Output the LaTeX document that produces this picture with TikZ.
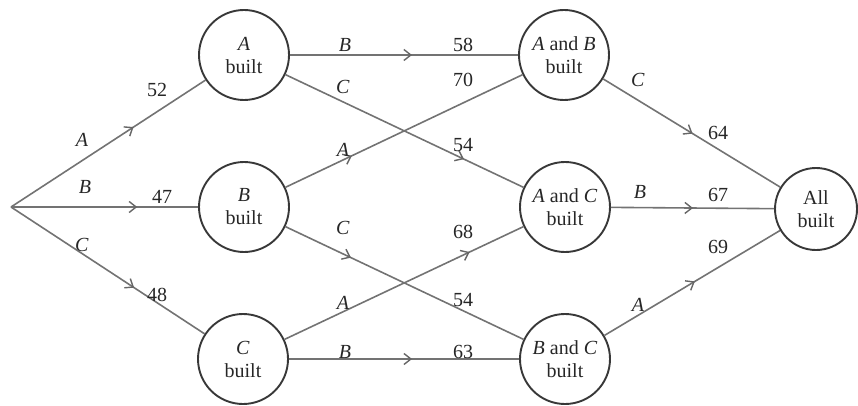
\documentclass[tikz,border=0pt]{standalone}
\usepackage{fontspec}
\setmainfont{Liberation Serif}
\usetikzlibrary{arrows.meta,decorations.markings}

\begin{document}
\begin{tikzpicture}[x=1pt,y=-1pt,
  state/.style={circle, draw=black!78, line width=1.9pt, minimum size=90pt,
    inner sep=0pt, align=center, text=black!85,
    font=\fontsize{20}{23}\selectfont},
  lbl/.style={inner sep=0pt, text=black!85, font=\fontsize{20}{23}\selectfont},
  flow/.style={draw=black!55, line width=1.6pt, postaction={decorate},
    decoration={markings, mark=at position #1 with
      {\arrow[black!60]{Straight Barb[length=7pt,width=11pt,line width=1.4pt]}}}},
]
\useasboundingbox (0,0) rectangle (858,406);

% start point and project states
\coordinate (S) at (11,207);
\node[state] (A)   at (244,55)  {\textit{A}\\built};
\node[state] (B)   at (244,207) {\textit{B}\\built};
\node[state] (C)   at (243,359) {\textit{C}\\built};
\node[state] (AB)  at (564,55)  {\textit{A} and \textit{B}\\built};
\node[state] (AC)  at (565,207) {\textit{A} and \textit{C}\\built};
\node[state] (BC)  at (565,359) {\textit{B} and \textit{C}\\built};
\node[state, minimum size=82pt] (All) at (816,209) {All\\built};

% activities
\draw[flow=0.63]  (S) -- (A);
\draw[flow=0.675] (S) -- (B);
\draw[flow=0.636] (S) -- (C);
\draw[flow=0.535] (A) -- (AB);
\draw[flow=0.75]  (A) -- (AC);
\draw[flow=0.28]  (B) -- (AB);
\draw[flow=0.275] (B) -- (BC);
\draw[flow=0.775] (C) -- (AC);
\draw[flow=0.535] (C) -- (BC);
\draw[flow=0.505] (AB) -- (All);
\draw[flow=0.503] (AC) -- (All);
\draw[flow=0.515] (BC) -- (All);

% activity names and durations
\node[lbl] (lSA) at (82,140)  {\textit{A}};
\node[lbl] (dSA) at (157,90)  {52};
\node[lbl] (lSB) at (85,187)  {\textit{B}};
\node[lbl] (dSB) at (162,197) {47};
\node[lbl] (lSC) at (82,245)  {\textit{C}};
\node[lbl] (dSC) at (157,295) {48};
\node[lbl] (lAAB) at (345,45)  {\textit{B}};
\node[lbl] (dAAB) at (463,45)  {58};
\node[lbl] (lAAC) at (343,87)  {\textit{C}};
\node[lbl] (dAAC) at (463,145) {54};
\node[lbl] (lBAB) at (343,150) {\textit{A}};
\node[lbl] (dBAB) at (463,80)  {70};
\node[lbl] (lBBC) at (343,228) {\textit{C}};
\node[lbl] (dBBC) at (463,300) {54};
\node[lbl] (lCAC) at (343,303) {\textit{A}};
\node[lbl] (dCAC) at (463,232) {68};
\node[lbl] (lCBC) at (345,352) {\textit{B}};
\node[lbl] (dCBC) at (463,352) {63};
\node[lbl] (lABAll) at (638,80)  {\textit{C}};
\node[lbl] (dABAll) at (718,133) {64};
\node[lbl] (lACAll) at (640,192) {\textit{B}};
\node[lbl] (dACAll) at (718,195) {67};
\node[lbl] (lBCAll) at (638,305) {\textit{A}};
\node[lbl] (dBCAll) at (718,247) {69};
\end{tikzpicture}
\end{document}
